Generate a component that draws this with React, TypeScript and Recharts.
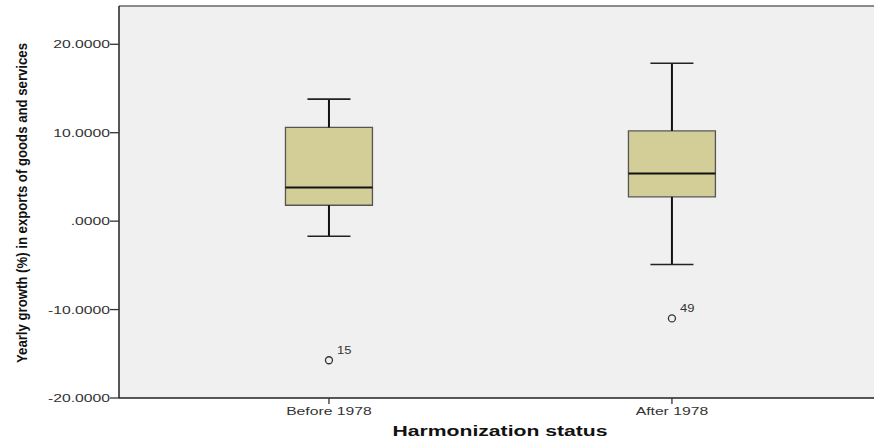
import React from 'react';
import {
  ComposedChart,
  XAxis,
  YAxis,
  ReferenceArea,
  ReferenceLine,
  Scatter,
} from 'recharts';

// ---- data ----
const categories = ['Before 1978', 'After 1978'];
const categoryPositions = [1, 2];
const whiskerLow = [-1.7, -4.9];
const quartile1 = [1.8, 2.75];
const medians = [3.8, 5.4];
const quartile3 = [10.6, 10.2];
const whiskerHigh = [13.8, 17.85];
const outlierCategory = [0, 1];
const outlierValues = [-15.73, -11.0];
const outlierLabels = ['15', '49'];
const yTicks = [-20, -10, 0, 10, 20];

const X_DOMAIN: [number, number] = [0.3878, 2.595];
const Y_DOMAIN: [number, number] = [-20, 24.33];
const BOX_HALF = 0.1268;
const CAP_HALF = 0.0627;

const outlierData = outlierValues.map((v, i) => ({
  x: categoryPositions[outlierCategory[i]],
  y: v,
  label: outlierLabels[i],
}));

const fmtY = (v: number) => (v === 0 ? '.0000' : v.toFixed(4));

const YTick = (props: any) => {
  const { x, y, payload } = props;
  return (
    <g transform={`translate(${x},${y + 4}) scale(1.43,1)`}>
      <text x={0} y={0} textAnchor="end" fontFamily="Liberation Sans, Arial, sans-serif" fontSize={11} fill="#333">
        {fmtY(payload.value)}
      </text>
    </g>
  );
};

const XTick = (props: any) => {
  const { x, y, payload } = props;
  const idx = categoryPositions.indexOf(payload.value);
  return (
    <g transform={`translate(${x},${y + 9}) scale(1.43,1)`}>
      <text x={0} y={0} textAnchor="middle" fontFamily="Liberation Sans, Arial, sans-serif" fontSize={11} fill="#333">
        {idx >= 0 ? categories[idx] : ''}
      </text>
    </g>
  );
};

const OutlierShape = (props: any) => {
  const { cx, cy, payload } = props;
  return (
    <g>
      <circle cx={cx} cy={cy} r={3.5} fill="none" stroke="#333" strokeWidth={1.3} />
      <g transform={`translate(${cx + 8},${cy - 6}) scale(1.3,1)`}>
        <text x={0} y={0} fontFamily="Liberation Sans, Arial, sans-serif" fontSize={10} fill="#333">
          {payload.label}
        </text>
      </g>
    </g>
  );
};

export default function App() {
  return (
    <div style={{ position: 'absolute', left: 0, top: 0, width: 874, height: 443, background: '#fff', overflow: 'hidden' }}>
      <ComposedChart width={876} height={443} margin={{ top: 6, right: 0, bottom: 0, left: 0 }}>
        <ReferenceArea
          x1={X_DOMAIN[0]}
          x2={X_DOMAIN[1]}
          y1={Y_DOMAIN[0]}
          y2={Y_DOMAIN[1]}
          fill="#F0F0F0"
          fillOpacity={1}
          stroke="none"
        />
        <XAxis
          type="number"
          dataKey="x"
          domain={X_DOMAIN}
          ticks={categoryPositions}
          allowDataOverflow
          height={45}
          tickSize={6}
          tickMargin={2}
          axisLine={{ stroke: '#222', strokeWidth: 1.5 }}
          tickLine={{ stroke: '#333', strokeWidth: 1.3 }}
          tick={<XTick />}
          label={{
            content: () => (
              <text
                x={500}
                y={436}
                textAnchor="middle"
                fontFamily="Liberation Sans, Arial, sans-serif"
                fontWeight="bold"
                fontSize={14}
                fill="#111"
                textLength={215}
                lengthAdjust="spacingAndGlyphs"
              >
                Harmonization status
              </text>
            ),
          }}
        />
        <YAxis
          type="number"
          dataKey="y"
          domain={Y_DOMAIN}
          ticks={yTicks}
          allowDataOverflow
          width={119}
          tickSize={9}
          tickMargin={0}
          axisLine={{ stroke: '#222', strokeWidth: 1.5 }}
          tickLine={{ stroke: '#333', strokeWidth: 1.3 }}
          tick={<YTick />}
          label={{
            content: () => (
              <g transform="translate(27,203) rotate(-90) scale(1,1.15)">
                <text
                  x={0}
                  y={0}
                  textAnchor="middle"
                  fontFamily="Liberation Sans Narrow, Liberation Sans, Arial, sans-serif"
                  fontWeight="bold"
                  fontSize={13}
                  fill="#111"
                  textLength={320}
                  lengthAdjust="spacingAndGlyphs"
                >
                  Yearly growth (%) in exports of goods and services
                </text>
              </g>
            ),
          }}
        />
        <ReferenceLine y={Y_DOMAIN[1]} stroke="#8a8a8a" strokeWidth={2} />
        {categoryPositions.map((p, i) => (
          <ReferenceLine
            key={`wu${i}`}
            segment={[{ x: p, y: quartile3[i] }, { x: p, y: whiskerHigh[i] }]}
            stroke="#111"
            strokeWidth={2}
          />
        ))}
        {categoryPositions.map((p, i) => (
          <ReferenceLine
            key={`wl${i}`}
            segment={[{ x: p, y: whiskerLow[i] }, { x: p, y: quartile1[i] }]}
            stroke="#111"
            strokeWidth={2}
          />
        ))}
        {categoryPositions.map((p, i) => (
          <ReferenceLine
            key={`cu${i}`}
            segment={[{ x: p - CAP_HALF, y: whiskerHigh[i] }, { x: p + CAP_HALF, y: whiskerHigh[i] }]}
            stroke="#222"
            strokeWidth={1.6}
          />
        ))}
        {categoryPositions.map((p, i) => (
          <ReferenceLine
            key={`cl${i}`}
            segment={[{ x: p - CAP_HALF, y: whiskerLow[i] }, { x: p + CAP_HALF, y: whiskerLow[i] }]}
            stroke="#222"
            strokeWidth={1.6}
          />
        ))}
        {categoryPositions.map((p, i) => (
          <ReferenceArea
            key={`b${i}`}
            x1={p - BOX_HALF}
            x2={p + BOX_HALF}
            y1={quartile1[i]}
            y2={quartile3[i]}
            fill="#D3CE98"
            fillOpacity={1}
            stroke="#555"
            strokeWidth={1.3}
          />
        ))}
        {categoryPositions.map((p, i) => (
          <ReferenceLine
            key={`m${i}`}
            segment={[{ x: p - BOX_HALF, y: medians[i] }, { x: p + BOX_HALF, y: medians[i] }]}
            stroke="#111"
            strokeWidth={2}
          />
        ))}
        <Scatter data={outlierData} dataKey="y" shape={<OutlierShape />} isAnimationActive={false} />
      </ComposedChart>
    </div>
  );
}
